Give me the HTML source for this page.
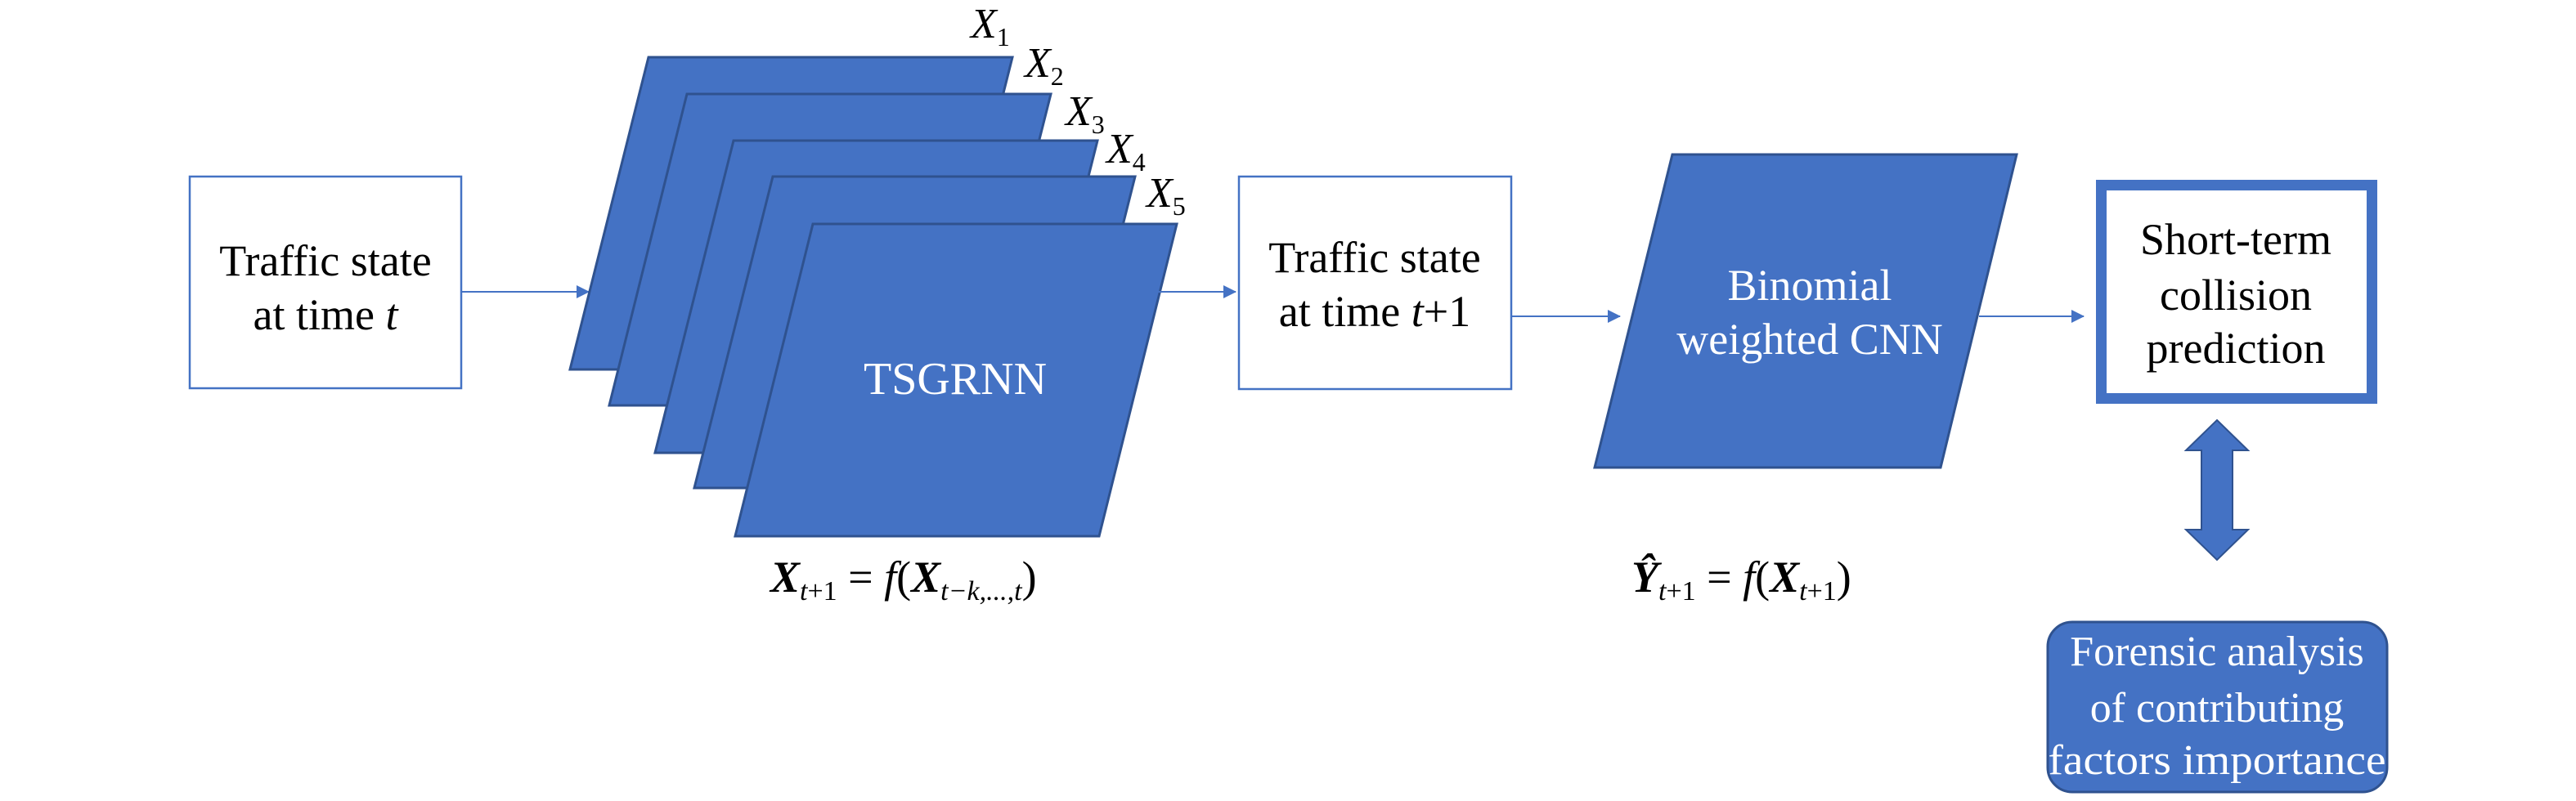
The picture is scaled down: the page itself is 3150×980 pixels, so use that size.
<!DOCTYPE html>
<html><head><meta charset="utf-8"><style>
html,body{margin:0;padding:0;background:#fff;width:3150px;height:980px;overflow:hidden}
svg{display:block}
text{font-family:"Liberation Serif",serif}
</style></head><body>
<svg width="3150" height="980" viewBox="0 0 3150 980" xmlns="http://www.w3.org/2000/svg">
<defs>
<marker id="ah" markerWidth="16" markerHeight="16" refX="15" refY="8" orient="auto" markerUnits="userSpaceOnUse">
<path d="M0,0 L16,8 L0,16 z" fill="#4472c4"/></marker>
</defs>
<!-- Box 1 -->
<rect x="232" y="216" width="332" height="259" fill="#fff" stroke="#4472c4" stroke-width="2.5"/>
<text x="398" y="337" font-size="54" text-anchor="middle">Traffic state</text>
<text x="398" y="403" font-size="54" text-anchor="middle">at time <tspan font-style="italic">t</tspan></text>
<line x1="564" y1="357" x2="720" y2="357" stroke="#4472c4" stroke-width="2" marker-end="url(#ah)"/>
<!-- stacked parallelograms -->
<g fill="#4472c4" stroke="#2f528f" stroke-width="3">
<polygon points="793,70 1238,70 1142,452 697,452"/>
<polygon points="840,115 1285,115 1189,496 745,496"/>
<polygon points="897,172 1342,172 1246,554 801,554"/>
<polygon points="945,216 1388,216 1292,597 849,597"/>
<polygon points="994,274 1439,274 1344,656 899,656"/>
</g>
<text x="1168" y="482" font-size="56" fill="#fff" text-anchor="middle">TSGRNN</text>
<g font-size="52" font-style="italic">
<text x="1187" y="46">X<tspan font-size="32" font-style="normal" dy="10">1</tspan></text>
<text x="1253" y="94">X<tspan font-size="32" font-style="normal" dy="10">2</tspan></text>
<text x="1303" y="153">X<tspan font-size="32" font-style="normal" dy="10">3</tspan></text>
<text x="1353" y="199">X<tspan font-size="32" font-style="normal" dy="10">4</tspan></text>
<text x="1402" y="253">X<tspan font-size="32" font-style="normal" dy="10">5</tspan></text>
</g>
<text x="942" y="724" font-size="54"><tspan font-weight="bold" font-style="italic">X</tspan><tspan font-size="34" dy="10" font-style="italic">t</tspan><tspan font-size="34">+1</tspan><tspan dy="-10"> = </tspan><tspan font-style="italic">f</tspan>(<tspan font-weight="bold" font-style="italic">X</tspan><tspan font-size="34" dy="10" font-style="italic">t−k,...,t</tspan><tspan dy="-10">)</tspan></text>
<line x1="1344" y1="357" x2="1511" y2="357" stroke="#4472c4" stroke-width="2" marker-end="url(#ah)"/>
<!-- Box 2 -->
<rect x="1515" y="216" width="333" height="260" fill="#fff" stroke="#4472c4" stroke-width="2.5"/>
<text x="1681" y="333" font-size="54" text-anchor="middle">Traffic state</text>
<text x="1681" y="399" font-size="54" text-anchor="middle">at time <tspan font-style="italic">t</tspan>+1</text>
<line x1="1848" y1="387" x2="1981" y2="387" stroke="#4472c4" stroke-width="2" marker-end="url(#ah)"/>
<!-- Binomial -->
<polygon points="2045,189 2466,189 2373,572 1950,572" fill="#4472c4" stroke="#2f528f" stroke-width="3"/>
<text x="2213" y="367" font-size="54" fill="#fff" text-anchor="middle">Binomial</text>
<text x="2213" y="433" font-size="54" fill="#fff" text-anchor="middle">weighted CNN</text>
<text x="1995" y="724" font-size="54"><tspan font-weight="bold" font-style="italic">Ŷ</tspan><tspan font-size="34" dy="10" font-style="italic">t</tspan><tspan font-size="34">+1</tspan><tspan dy="-10"> = </tspan><tspan font-style="italic">f</tspan>(<tspan font-weight="bold" font-style="italic">X</tspan><tspan font-size="34" dy="10" font-style="italic">t</tspan><tspan font-size="34">+1</tspan><tspan dy="-10">)</tspan></text>
<line x1="2420" y1="387" x2="2548" y2="387" stroke="#4472c4" stroke-width="2" marker-end="url(#ah)"/>
<!-- Box 3 -->
<rect x="2569.5" y="226.5" width="331" height="261" fill="#fff" stroke="#4472c4" stroke-width="13"/>
<text x="2734" y="311" font-size="54" text-anchor="middle">Short-term</text>
<text x="2734" y="379" font-size="54" text-anchor="middle">collision</text>
<text x="2734" y="444" font-size="54" text-anchor="middle">prediction</text>
<!-- double arrow -->
<polygon points="2711,514 2749,551 2730,551 2730,648 2749,648 2711,685 2673,648 2692,648 2692,551 2673,551" fill="#4472c4" stroke="#2f528f" stroke-width="2"/>
<!-- Forensic -->
<rect x="2504" y="761" width="415" height="208" rx="30" fill="#4472c4" stroke="#2f528f" stroke-width="3"/>
<text x="2711" y="814" font-size="52" fill="#fff" text-anchor="middle">Forensic analysis</text>
<text x="2711" y="883" font-size="52" fill="#fff" text-anchor="middle">of contributing</text>
<text x="2711" y="947" font-size="52" fill="#fff" text-anchor="middle" textLength="413" lengthAdjust="spacingAndGlyphs">factors importance</text>
</svg>
</body></html>
